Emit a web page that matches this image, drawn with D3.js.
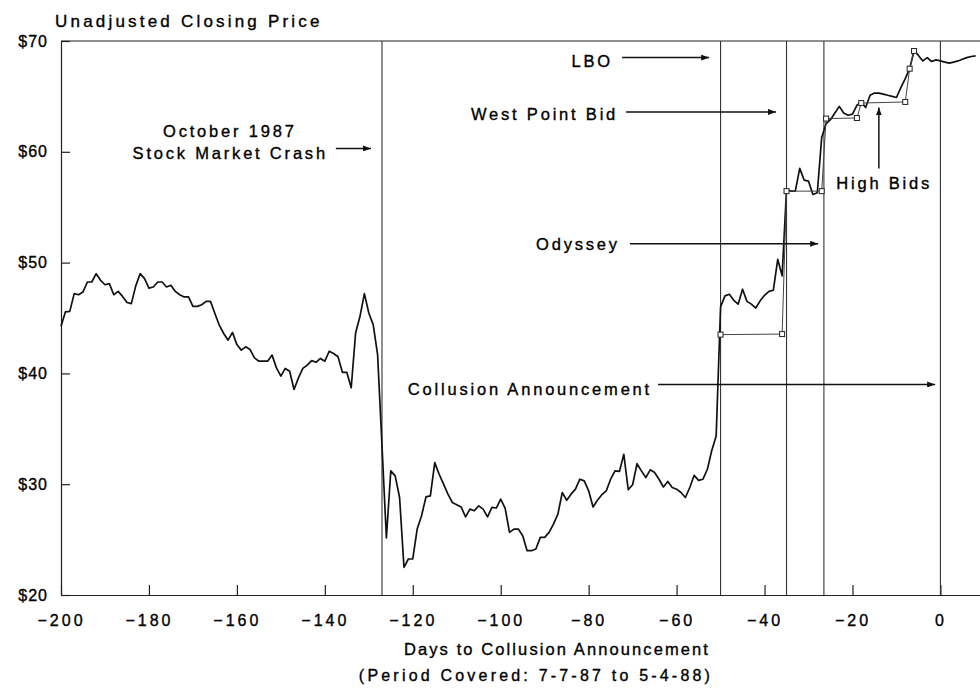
<!DOCTYPE html>
<html>
<head>
<meta charset="utf-8">
<title>Unadjusted Closing Price</title>
<script src="https://d3js.org/d3.v7.min.js"></script>
<style>
body { margin: 0; background: #fff; }
text { font-family: "Liberation Sans", Arial, sans-serif; fill: #000; stroke: #000; stroke-width: 0.35px; }
.axis path, .axis line { stroke: #222; stroke-width: 1.2; }
.axis text { font-size: 16px; letter-spacing: 1px; }
.ann { font-size: 16.5px; letter-spacing: 2.8px; }
</style>
</head>
<body>
<script>
// daily closing price, day -200 .. +8
var firstDay = -200;
var prices = [
  44.25, 45.55, 45.6, 47.2, 47.1, 47.35, 48.25, 48.25, 49.0, 48.4,
  48.0, 48.1, 47.1, 47.4, 46.95, 46.4, 46.3, 47.9, 49.0, 48.55,
  47.7, 47.8, 48.25, 48.25, 47.8, 47.95, 47.4, 47.1, 46.9, 46.9,
  46.05, 46.05, 46.2, 46.5, 46.5, 45.4, 44.35, 43.6, 43.0, 43.7,
  42.6, 42.1, 42.4, 42.15, 41.4, 41.1, 41.1, 41.1, 41.65, 40.5,
  39.75, 40.45, 40.2, 38.55, 39.6, 40.45, 40.75, 41.15, 41.0, 41.35,
  41.1, 42.0, 41.8, 41.5, 40.1, 40.1, 38.7, 43.65, 45.15, 47.2,
  45.45, 44.4, 41.7, 33.5, 25.15, 31.2, 30.75, 28.8, 22.5, 23.25,
  23.25, 25.95, 27.15, 28.85, 28.95, 31.95, 30.9, 30.0, 29.1, 28.35,
  28.15, 27.95, 27.05, 27.75, 27.6, 28.05, 27.75, 27.05, 27.9, 27.85,
  28.65, 27.85, 25.65, 25.95, 25.95, 25.35, 24.0, 24.0, 24.15, 25.2,
  25.2, 25.65, 26.4, 27.3, 29.25, 28.55, 29.1, 29.55, 30.45, 30.3,
  29.4, 27.95, 28.55, 29.05, 29.4, 30.45, 31.2, 31.15, 32.7, 29.5,
  29.95, 31.85, 31.2, 30.6, 31.3, 31.05, 30.45, 29.75, 30.25, 29.7,
  29.55, 29.25, 28.8, 29.7, 30.8, 30.35, 30.45, 31.35, 33.05, 34.35,
  46.0, 47.0, 47.15, 46.6, 46.25, 47.6, 46.5, 46.25, 45.9, 46.55,
  47.05, 47.4, 47.5, 50.3, 48.8, 56.6, 56.45, 56.45, 58.5, 57.45,
  57.35, 56.15, 56.3, 61.3, 62.55, 62.9, 63.5, 64.1, 63.5, 63.3,
  63.4, 64.2, 64.5, 64.0, 65.1, 65.3, 65.3, 65.2, 65.1, 65.0,
  64.9, 65.8, 66.6, 67.5, 69.1, 68.7, 68.2, 68.5, 68.15, 68.3,
  68.2, 68.1, 68.0, 68.1, 68.2, 68.35, 68.5, 68.6, 68.65
];
// high bids
var bidDays = [-50, -36, -35, -27, -26, -19, -18, -8, -7, -6];
var bidPrices = [43.5, 43.55, 56.45, 56.45, 63.0, 63.05, 64.4, 64.5, 67.5, 69.1];
// event lines: crash, LBO, West Point, Odyssey, collusion announcement
var eventDays = [-127, -50, -35, -26.5, 0];
var xTicks = [-200, -180, -160, -140, -120, -100, -80, -60, -40, -20, 0];
var yTicks = [20, 30, 40, 50, 60, 70];

var W = 980, H = 689;
var svg = d3.select("body").append("svg").attr("width", W).attr("height", H);

var x = d3.scaleLinear().domain([-200, 9]).range([61, 980]);
var y = d3.scaleLinear().domain([20, 70]).range([595, 41]);

svg.append("defs").append("marker")
  .attr("id", "arr").attr("viewBox", "0 0 8 6")
  .attr("refX", 8).attr("refY", 3)
  .attr("markerWidth", 8).attr("markerHeight", 6)
  .attr("markerUnits", "userSpaceOnUse").attr("orient", "auto")
  .append("path").attr("d", "M0,0L8,3L0,6Z").attr("fill", "#111");

// top border
svg.append("line")
  .attr("x1", x(-200)).attr("x2", x(9))
  .attr("y1", y(70)).attr("y2", y(70))
  .attr("stroke", "#222").attr("stroke-width", 1.2);

svg.append("g").attr("class", "axis")
  .attr("transform", "translate(" + x(-200) + ",0)")
  .call(d3.axisLeft(y).tickValues(yTicks).tickSize(-9).tickSizeOuter(0)
    .tickPadding(13).tickFormat(function(d) { return "$" + d; }));

svg.append("g").attr("class", "axis x")
  .attr("transform", "translate(0," + y(20) + ")")
  .call(d3.axisBottom(x).tickValues(xTicks).tickSize(-10).tickSizeOuter(0)
    .tickPadding(20));
svg.selectAll(".axis.x text").style("letter-spacing", "3px");

// event lines
svg.selectAll(".ev").data(eventDays).enter().append("line")
  .attr("class", "ev")
  .attr("x1", function(d) { return x(d); }).attr("x2", function(d) { return x(d); })
  .attr("y1", y(70)).attr("y2", y(20))
  .attr("stroke", "#333").attr("stroke-width", 1.1);

// price line
var line = d3.line()
  .x(function(d, i) { return x(firstDay + i); })
  .y(function(d) { return y(d); });
svg.append("path").datum(prices)
  .attr("d", line).attr("fill", "none")
  .attr("stroke", "#111").attr("stroke-width", 1.7)
  .attr("stroke-linejoin", "round");

// high bids
var bids = bidDays.map(function(d, i) { return [d, bidPrices[i]]; });
svg.append("path").datum(bids)
  .attr("d", d3.line().x(function(d) { return x(d[0]); }).y(function(d) { return y(d[1]); }))
  .attr("fill", "none").attr("stroke", "#444").attr("stroke-width", 1);
svg.selectAll(".bid").data(bids).enter().append("rect")
  .attr("class", "bid")
  .attr("x", function(d) { return x(d[0]) - 2.5; })
  .attr("y", function(d) { return y(d[1]) - 2.5; })
  .attr("width", 5).attr("height", 5)
  .attr("fill", "#fff").attr("stroke", "#222").attr("stroke-width", 1);

// labels and arrows (positions in chart units)
var labels = [
  {t: "LBO", d: -74.5, p: 68.2, a: "end"},
  {t: "West Point Bid", d: -73.3, p: 63.4, a: "end"},
  {t: "October 1987", d: -161.6, p: 61.9, a: "middle"},
  {t: "Stock Market Crash", d: -139.3, p: 59.9, a: "end"},
  {t: "High Bids", d: -12.8, p: 57.2, a: "middle"},
  {t: "Odyssey", d: -72.9, p: 51.7, a: "end"},
  {t: "Collusion Announcement", d: -65.6, p: 38.6, a: "end"}
];
var arrows = [
  [-72.4, 68.5, -52.6, 68.5],
  [-71.5, 63.6, -37.4, 63.6],
  [-137.5, 60.3, -129.5, 60.3],
  [-14, 58.5, -14, 64.0],
  [-70.6, 51.7, -27.8, 51.7],
  [-64.2, 39.0, -1.2, 39.0]
];
svg.selectAll(".ann").data(labels).enter().append("text")
  .attr("class", "ann")
  .attr("x", function(d) { return x(d.d); })
  .attr("y", function(d) { return y(d.p); })
  .attr("dy", "0.35em")
  .attr("text-anchor", function(d) { return d.a; })
  .text(function(d) { return d.t; });
svg.selectAll(".arrow").data(arrows).enter().append("line")
  .attr("class", "arrow")
  .attr("x1", function(d) { return x(d[0]); }).attr("y1", function(d) { return y(d[1]); })
  .attr("x2", function(d) { return x(d[2]); }).attr("y2", function(d) { return y(d[3]); })
  .attr("stroke", "#111").attr("stroke-width", 1.5)
  .attr("marker-end", "url(#arr)");

// titles
svg.append("text").attr("x", 55).attr("y", 27)
  .style("font-size", "17px").style("letter-spacing", "3.2px")
  .text("Unadjusted Closing Price");
svg.append("text").attr("x", 557).attr("y", 655)
  .attr("text-anchor", "middle")
  .style("font-size", "16.5px").style("letter-spacing", "2.1px")
  .text("Days to Collusion Announcement");
svg.append("text").attr("x", 536).attr("y", 681)
  .attr("text-anchor", "middle")
  .style("font-size", "16px").style("letter-spacing", "3.2px")
  .text("(Period Covered:  7-7-87 to 5-4-88)");
</script>
</body>
</html>
